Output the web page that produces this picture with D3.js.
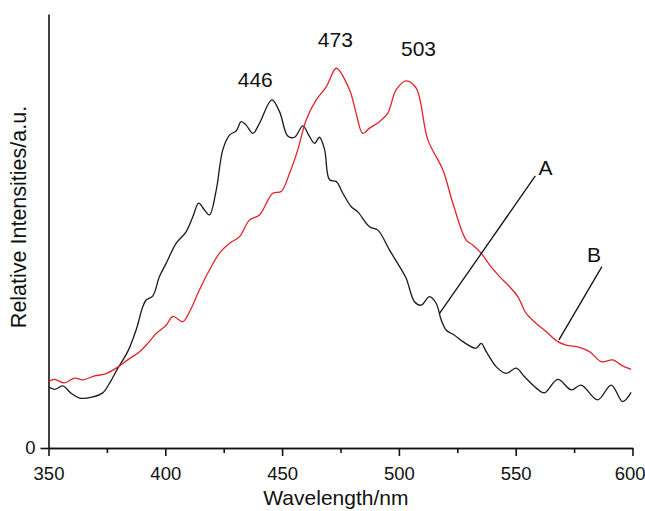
<!DOCTYPE html>
<html lang="en">
<head>
  <meta charset="UTF-8">
  <title>Emission spectra A and B</title>
  <script src="https://d3js.org/d3.v7.min.js"></script>
  <style>
    body { margin: 0; background: #fff; }
    text { font-family: "Liberation Sans", Arial, Helvetica, sans-serif; fill: #111; }
    .axis path, .axis line { stroke: #111; stroke-width: 1.6; }
  </style>
</head>
<body>
  <svg id="chart" width="645" height="511"></svg>

  <script>
    // curve A (black): wavelength / relative intensity
    const waveA = [350, 352.6, 356.1, 359.7, 363.3, 369.0, 373.2, 376.1, 379.7, 383.9,
      387.5, 390.4, 391.8, 394.6, 397.5, 400.4, 404.7, 408.9, 411.8, 414.3,
      416.8, 418.9, 421.8, 424.6, 427.5, 430.4, 432.5, 434.6, 437.5, 440.3,
      445.6, 448.9, 452.4, 455.3, 458.9, 461.4, 463.9, 466.0, 468.2, 470.3,
      473.2, 476.0, 479.6, 482.4, 487.4, 491.0, 496.0, 500.3, 503.1, 506.7,
      509.5, 513.1, 516.0, 518.1, 520.2, 523.8, 527.4, 533.1, 535.2, 537.4,
      541.7, 545.9, 550.2, 553.8, 558.8, 562.3, 568.0, 573.8, 578.0, 585.1,
      590.9, 595.8, 599.4];
    const intensA = [14.1, 13.5, 14.3, 12.6, 11.5, 11.8, 12.7, 14.9, 18.4, 22.2,
      27.2, 32.6, 34.1, 35.0, 39.5, 42.6, 47.2, 49.8, 53.3, 56.4,
      54.8, 53.7, 59.4, 68.7, 72.1, 73.1, 75.2, 74.4, 72.5, 74.8,
      80.2, 77.5, 71.9, 71.6, 74.2, 72.1, 70.2, 71.6, 68.7, 61.8,
      61.4, 58.7, 55.6, 54.4, 51.0, 50.2, 45.6, 41.8, 39.1, 33.7,
      32.9, 34.9, 33.3, 29.5, 27.2, 26.0, 24.5, 23.0, 24.1, 22.2,
      18.7, 17.2, 18.4, 16.4, 13.8, 12.7, 15.8, 13.4, 14.5, 11.1,
      14.5, 10.7, 12.8];

    // curve B (red)
    const waveB = [350, 352.6, 356.8, 361.1, 364.7, 369.7, 374.0, 379.0, 383.9, 389.0,
      392.5, 396.1, 400.4, 403.2, 407.5, 410.4, 414.6, 418.9, 423.2, 427.5,
      431.8, 436.0, 440.3, 446.0, 449.6, 453.2, 456.7, 460.3, 464.6, 468.9,
      470.3, 473.2, 478.9, 481.7, 484.5, 487.4, 491.7, 495.2, 498.8, 503.1,
      507.4, 512.4, 518.8, 523.1, 528.8, 531.6, 535.2, 538.8, 543.1, 547.3,
      550.9, 554.5, 558.8, 563.1, 568.0, 571.6, 577.3, 581.6, 586.6, 591.6,
      595.2, 599.4];
    const intensB = [15.3, 15.8, 15.0, 16.1, 15.7, 16.6, 17.0, 18.4, 20.3, 22.2,
      24.1, 26.4, 28.3, 30.3, 29.1, 31.4, 36.4, 41.0, 44.9, 47.2,
      48.7, 52.5, 53.7, 58.7, 59.1, 63.3, 68.7, 75.6, 80.2, 83.2,
      84.8, 87.5, 82.5, 77.1, 72.5, 73.7, 75.2, 77.1, 82.5, 84.6,
      82.9, 71.0, 64.1, 56.4, 47.9, 46.8, 44.9, 42.2, 39.5, 37.2,
      34.9, 31.0, 28.7, 26.8, 24.5, 23.7, 23.2, 22.2, 19.9, 20.3,
      19.1, 18.1];

    const xTicks = [350, 400, 450, 500, 550, 600];
    const xMinorTicks = [375, 425, 475, 525, 575];
    const yTicks = [0];

    // peak labels: text, wavelength, intensity of the baseline
    const peakLabels = ["446", "473", "503"];
    const peakWave = [438.5, 472.8, 508.4];
    const peakLevel = [83.2, 92.5, 90.4];

    // curve labels and leader lines [wave1, level1, wave2, level2]
    const curveNames = ["A", "B"];
    const nameWave = [562.8, 583.5];
    const nameLevel = [62.9, 42.9];
    const leaders = [[558.4, 62.7, 517.4, 31.0], [586.9, 41.8, 568.5, 24.9]];

    const svg = d3.select("#chart");

    const x = d3.scaleLinear().domain([350, 600]).range([48.5, 632.5]);
    const y = d3.scaleLinear().domain([0, 100]).range([448, 14]);

    // axes
    svg.append("g")
      .attr("class", "axis")
      .attr("transform", "translate(0,448)")
      .call(d3.axisBottom(x).tickValues(xMinorTicks).tickSize(5).tickSizeOuter(0).tickFormat(""));

    const xAxis = svg.append("g")
      .attr("class", "axis")
      .attr("transform", "translate(0,448)")
      .call(d3.axisBottom(x).tickValues(xTicks).tickSize(8).tickSizeOuter(0).tickPadding(10.5));
    xAxis.selectAll("text").style("font-size", "18.5px");
    // last label sits against the right edge of the figure
    xAxis.selectAll("text").filter(d => d === 600)
      .attr("text-anchor", "end")
      .attr("x", 645 - x(600));

    const yAxis = svg.append("g")
      .attr("class", "axis")
      .attr("transform", "translate(48.5,0)")
      .call(d3.axisLeft(y).tickValues(yTicks).tickSize(8).tickSizeOuter(0).tickPadding(5));
    yAxis.selectAll("text").style("font-size", "18.5px");

    svg.append("text")
      .attr("x", x(500) - 63)
      .attr("y", 505)
      .attr("text-anchor", "middle")
      .style("font-size", "21px")
      .text("Wavelength/nm");

    svg.append("text")
      .attr("transform", "translate(26,217) rotate(-90)")
      .attr("text-anchor", "middle")
      .style("font-size", "21.5px")
      .text("Relative Intensities/a.u.");

    // curves
    const line = d3.line()
      .x(d => x(d[0]))
      .y(d => y(d[1]))
      .curve(d3.curveCatmullRom.alpha(0.5));

    svg.append("path")
      .datum(d3.zip(waveA, intensA))
      .attr("d", line)
      .attr("fill", "none")
      .attr("stroke", "#1a1a1a")
      .attr("stroke-width", 1.3);

    svg.append("path")
      .datum(d3.zip(waveB, intensB))
      .attr("d", line)
      .attr("fill", "none")
      .attr("stroke", "#e4222a")
      .attr("stroke-width", 1.3);

    // annotations
    svg.selectAll("text.peak")
      .data(peakLabels)
      .join("text")
      .attr("class", "peak")
      .attr("x", (d, i) => x(peakWave[i]))
      .attr("y", (d, i) => y(peakLevel[i]))
      .attr("text-anchor", "middle")
      .style("font-size", "21px")
      .text(d => d);

    svg.selectAll("line.leader")
      .data(leaders)
      .join("line")
      .attr("class", "leader")
      .attr("x1", d => x(d[0]))
      .attr("y1", d => y(d[1]))
      .attr("x2", d => x(d[2]))
      .attr("y2", d => y(d[3]))
      .attr("stroke", "#111")
      .attr("stroke-width", 1.3);

    svg.selectAll("text.name")
      .data(curveNames)
      .join("text")
      .attr("class", "name")
      .attr("x", (d, i) => x(nameWave[i]))
      .attr("y", (d, i) => y(nameLevel[i]))
      .attr("text-anchor", "middle")
      .style("font-size", "21px")
      .text(d => d);
  </script>
</body>
</html>
